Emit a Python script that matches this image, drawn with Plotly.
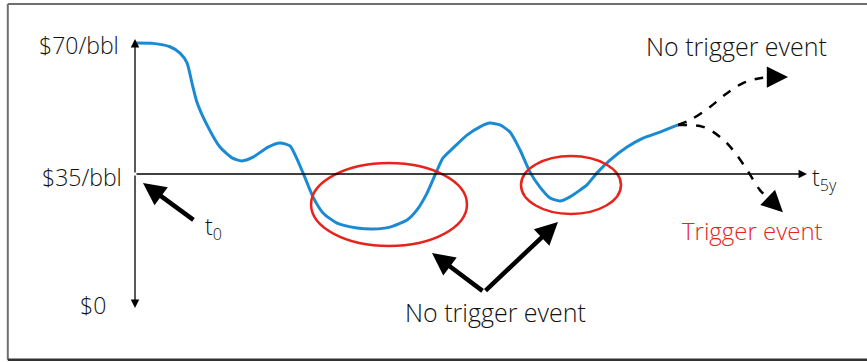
import plotly.graph_objects as go

# ---- data (time in years, price in $/bbl) ----
path_t = [0.01, 0.134, 0.260, 0.335, 0.387, 0.424, 0.461, 0.543, 0.632, 0.722, 0.796, 0.878,
          0.990, 1.079, 1.153, 1.250, 1.324, 1.399, 1.503, 1.652, 1.771, 1.897, 2.024, 2.098,
          2.173, 2.232, 2.292, 2.366, 2.470, 2.567, 2.641, 2.716, 2.790, 2.865, 2.939, 3.013,
          3.088, 3.162, 3.237, 3.311, 3.363, 3.438, 3.534, 3.661, 3.780, 3.906, 4.040]
path_price = [70.0, 69.9, 69.0, 67.3, 64.7, 59.3, 54.2, 47.6, 42.2, 39.3, 38.5, 39.5,
              42.2, 43.3, 42.5, 35.3, 28.9, 24.6, 21.9, 20.6, 20.3, 20.8, 22.7, 25.4,
              29.9, 34.7, 39.3, 41.9, 45.4, 47.6, 48.6, 48.1, 46.2, 41.4, 35.5, 31.5,
              28.6, 27.8, 28.9, 30.7, 32.1, 35.3, 38.7, 42.2, 44.6, 46.2, 48.1]

up_t = [4.040, 4.129, 4.278, 4.405, 4.524, 4.650, 4.777]
up_price = [48.1, 49.4, 52.9, 56.6, 59.3, 60.6, 60.9]
down_t = [4.040, 4.226, 4.353, 4.449, 4.554, 4.650, 4.747]
down_price = [48.1, 47.6, 44.9, 41.4, 36.1, 30.7, 27.3]

trigger_level = 35
cap_level = 70
floor_level = 0
maturity = 5

BLUE = "#1b8ad2"
RED = "#e8231c"
INK = "#111111"
FONT = "Open Sans"

fig = go.Figure()
fig.add_trace(go.Scatter(x=path_t, y=path_price, mode="lines",
                         line=dict(color=BLUE, width=3, shape="spline", smoothing=0.6),
                         hoverinfo="skip", showlegend=False))
for tt, pp in [(up_t, up_price), (down_t, down_price)]:
    fig.add_trace(go.Scatter(x=tt, y=pp, mode="lines",
                             line=dict(color="black", width=2.5, dash="dash", shape="spline"),
                             hoverinfo="skip", showlegend=False))

# horizontal time axis at $35
fig.add_annotation(x=maturity, y=trigger_level, ax=0, ay=trigger_level, xref="x", yref="y",
                   axref="x", ayref="y", text="", showarrow=True, arrowhead=2, arrowsize=1.3,
                   arrowwidth=1.3, arrowcolor="black", standoff=0)
# vertical price axis (both directions)
for tip in [71.07, -0.8]:
    fig.add_annotation(x=0, y=tip, ax=0, ay=trigger_level, xref="x", yref="y",
                       axref="x", ayref="y", text="", showarrow=True, arrowhead=2, arrowsize=1.3,
                       arrowwidth=1.3, arrowcolor="black", standoff=0)

# arrowheads on dashed scenarios
fig.add_annotation(x=4.859, y=60.9, ax=4.74, ay=60.9, xref="x", yref="y", axref="x", ayref="y",
                   text="", showarrow=True, arrowhead=2, arrowsize=1.7, arrowwidth=2.5,
                   arrowcolor="black", standoff=0)
fig.add_annotation(x=4.821, y=24.8, ax=4.72, ay=28.3, xref="x", yref="y", axref="x", ayref="y",
                   text="", showarrow=True, arrowhead=2, arrowsize=1.7, arrowwidth=2.5,
                   arrowcolor="black", standoff=0)

# thick pointer arrows
for (tx, ty, sx, sy) in [(0.0595, 32.6, 0.446, 22.44), (2.210, 13.89, 2.597, 3.47),
                         (3.147, 22.17, 2.597, 3.47)]:
    fig.add_annotation(x=tx, y=ty, ax=sx, ay=sy, xref="x", yref="y", axref="x", ayref="y",
                       text="", showarrow=True, arrowhead=2, arrowsize=1.0, arrowwidth=4.5,
                       arrowcolor="black", standoff=0)

# red ellipses
fig.add_shape(type="circle", xref="x", yref="y", x0=1.310, x1=2.470, y0=15.76, y1=37.94,
              line=dict(color=RED, width=2.5))
fig.add_shape(type="circle", xref="x", yref="y", x0=2.872, x1=3.616, y0=24.31, y1=39.81,
              line=dict(color=RED, width=2.5))

# frame (left, top, bottom edges only; right edge lies outside the picture)
FRAME = dict(color="#6e6e6e", width=2)
fig.add_shape(type="line", xref="paper", yref="paper", x0=0.009, x1=0.009, y0=0.006, y1=0.989, line=FRAME)
fig.add_shape(type="line", xref="paper", yref="paper", x0=0.009, x1=1.0, y0=0.989, y1=0.989, line=FRAME)
fig.add_shape(type="line", xref="paper", yref="paper", x0=0.009, x1=1.0, y0=0.006, y1=0.006,
              line=dict(color="#333333", width=2.5))

def label(x, y, text, xanchor="center", color=INK, size=24):
    fig.add_annotation(x=x, y=y, xref="x", yref="y", text=text, showarrow=False,
                       xanchor=xanchor, yanchor="middle",
                       font=dict(family=FONT, size=size, color=color, weight=300))

label(-0.105, 69.5, "$70/bbl", "right", size=23)
label(-0.085, 34.2, "$35/bbl", "right", size=23)
label(-0.20, 0.0, "$0", "right", size=23)
label(0.506, 20.6, "t<sub>0</sub>", "left", size=23)
label(5.022, 33.9, "t<sub>5y</sub>", "left", size=23)
label(4.479, 69.2, "No trigger event", size=25)
label(4.591, 19.8, "Trigger event", color="#e8231c", size=24)
label(2.679, -1.9, "No trigger event", size=25)

fig.update_layout(width=867, height=362, margin=dict(l=0, r=0, t=0, b=0),
                  paper_bgcolor="white", plot_bgcolor="white", showlegend=False,
                  xaxis=dict(visible=False, range=[-135 / 134.4, 732 / 134.4], fixedrange=True),
                  yaxis=dict(visible=False, range=[-57 / 3.7429, 305 / 3.7429], fixedrange=True))

fig.write_html("out.html", config={"displayModeBar": False},
               post_script="document.body.style.margin='0';document.body.style.overflow='hidden';")
